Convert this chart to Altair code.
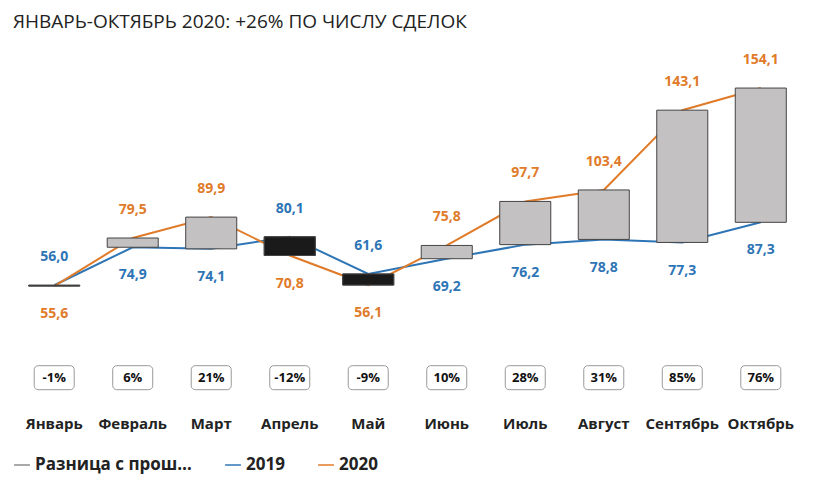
import altair as alt
import pandas as pd

months = ["Январь", "Февраль", "Март", "Апрель", "Май", "Июнь", "Июль", "Август", "Сентябрь", "Октябрь"]
v2019 = [56.0, 74.9, 74.1, 80.1, 61.6, 69.2, 76.2, 78.8, 77.3, 87.3]
v2020 = [55.6, 79.5, 89.9, 70.8, 56.1, 75.8, 97.7, 103.4, 143.1, 154.1]
pct = ["-1%", "6%", "21%", "-12%", "-9%", "10%", "28%", "31%", "85%", "76%"]

df = pd.DataFrame({"month": months, "v2019": v2019, "v2020": v2020, "pct": pct})
df["up"] = df.v2020 >= df.v2019
df["top"] = df[["v2019", "v2020"]].max(axis=1)
df["bot"] = df[["v2019", "v2020"]].min(axis=1)
df["y20"] = [t + 14 if u else b - 14 for t, b, u in zip(df.top, df.bot, df.up)]
df["y19"] = [b - 14 if u else t + 14 for t, b, u in zip(df.top, df.bot, df.up)]
df["lab20"] = [f"{v:.1f}".replace(".", ",") for v in v2020]
df["lab19"] = [f"{v:.1f}".replace(".", ",") for v in v2019]
df["s"] = "Разница с прошлым годом"
df["pct_y"] = 10.0
df["month_y"] = -13.0
df["up"] = df["up"].astype(int)

lines = df.melt(id_vars=["month"], value_vars=["v2019", "v2020"], var_name="s", value_name="v")
lines["s"] = lines.s.str[1:]

yscale = alt.Scale(domain=[-20, 180])
x = alt.X("month:N", sort=months, axis=None, scale=alt.Scale(paddingInner=0.35, paddingOuter=0.2))
base = alt.Chart(df).encode(x=x)

color = alt.Color("s:N", scale=alt.Scale(domain=["Разница с прошлым годом", "2019", "2020"],
                                         range=["#8c8c8c", "#2e75b6", "#e07b2a"]),
                  legend=alt.Legend(orient="bottom", title=None, labelFontSize=17, labelFontWeight="bold",
                                    symbolSize=250, columnPadding=30, labelColor="#222"))

line = alt.Chart(lines).mark_line(strokeWidth=2).encode(
    x=x, y=alt.Y("v:Q", axis=None, scale=yscale), color=color)

bars = base.mark_bar(stroke="#444", strokeWidth=1, fill="#c3c1c2").encode(
    y=alt.Y("v2019:Q", axis=None, scale=yscale), y2="v2020:Q", color=color)

neg = base.mark_bar(stroke="#444", strokeWidth=1, color="#1a1a1a").encode(
    y=alt.Y("v2019:Q"), y2="v2020:Q").transform_filter("datum.up == 0")

t20 = base.mark_text(fontSize=14, fontWeight="bold", color="#e07b2a").encode(y="y20:Q", text="lab20:N")
t19 = base.mark_text(fontSize=14, fontWeight="bold", color="#2e75b6").encode(y="y19:Q", text="lab19:N")
boxes = base.mark_rect(width=40, height=24, fill="white", stroke="#999", cornerRadius=4).encode(y="pct_y:Q")
tp = base.mark_text(fontSize=13, fontWeight="bold", color="#111").encode(y="pct_y:Q", text="pct:N")
tm = base.mark_text(fontSize=15, fontWeight="bold", color="#222").encode(y="month_y:Q", text="month:N")

chart = alt.layer(line, bars, neg, t20, t19, boxes, tp, tm).properties(
    width=799, height=470,
    title=alt.TitleParams("ЯНВАРЬ-ОКТЯБРЬ 2020: +26% ПО ЧИСЛУ СДЕЛОК", anchor="start", fontSize=19,
                          fontWeight="normal", color="#222", font="Open Sans"),
    autosize=alt.AutoSizeParams(type="fit", contains="padding"),
).configure_view(stroke=None).configure_text(font="Open Sans").configure_legend(labelFont="Open Sans")

chart.save("out.html", embed_options={"renderer": "svg", "actions": False})
